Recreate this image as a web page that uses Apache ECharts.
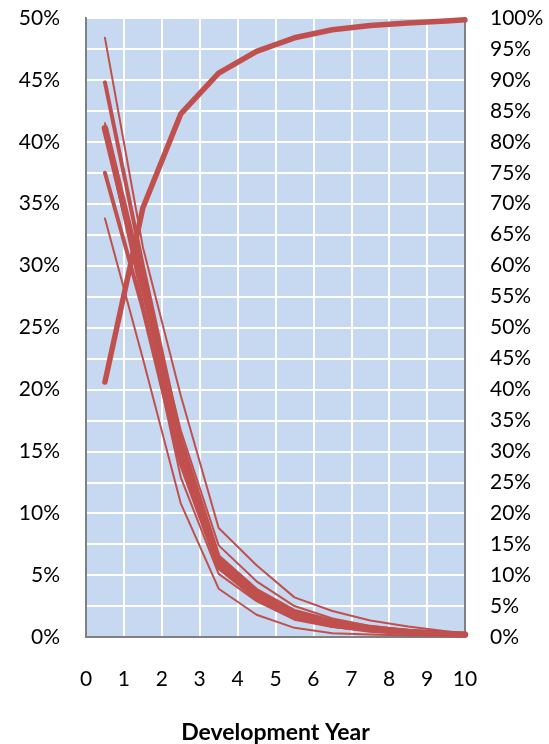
<!DOCTYPE html>
<html>
<head>
<meta charset="utf-8">
<script src="https://cdn.jsdelivr.net/npm/echarts@6/dist/echarts.min.js"></script>
<style>
  html, body { margin: 0; padding: 0; background: #ffffff; }
  #chart { width: 549px; height: 744px; }
</style>
</head>
<body>
<div id="chart"></div>
<script>
// Development years at which the payment percentages are recorded
const years = [0.5, 1.5, 2.5, 3.5, 4.5, 5.5, 6.5, 7.5, 8.5, 9.5, 10];

// Incremental share paid in each development year (left axis, %)
const patternA = [48.4, 31.5, 19.5, 8.8, 5.8, 3.2, 2.1, 1.33, 0.85, 0.47, 0.25];
const patternB = [44.8, 30.0, 16.0, 6.5, 3.8, 2.1, 1.3, 0.8, 0.5, 0.3, 0.2];
const patternC = [41.1, 28.5, 15.0, 6.0, 3.4, 1.8, 1.0, 0.6, 0.4, 0.25, 0.2];
const patternD = [41.5, 29.0, 16.7, 7.4, 4.5, 2.5, 1.5, 0.9, 0.55, 0.3, 0.2];
const patternE = [40.8, 27.0, 12.9, 5.1, 2.9, 1.4, 0.8, 0.5, 0.3, 0.2, 0.15];
const patternF = [37.5, 26.5, 14.0, 5.6, 3.1, 1.6, 0.9, 0.55, 0.35, 0.2, 0.15];
const patternG = [33.8, 22.5, 10.8, 3.9, 1.8, 0.74, 0.3, 0.2, 0.12, 0.1, 0.08];

// Cumulative share paid (right axis, %)
const cumulative = [41.2, 69.3, 84.5, 91.1, 94.6, 96.8, 98.1, 98.8, 99.2, 99.5, 99.7];

// Axis ticks
const xTicks = [0, 1, 2, 3, 4, 5, 6, 7, 8, 9, 10];
const leftMax = 50;
const rightMax = 100;

const lineColor = '#C0504D';
const font = 'Lato, "Open Sans", sans-serif';

function pairs(values) {
  return years.map((x, i) => [x, values[i]]);
}

function incrementalSeries(values, width) {
  return {
    type: 'line',
    data: pairs(values),
    yAxisIndex: 0,
    symbol: 'none',
    silent: true,
    lineStyle: { color: lineColor, width: width, cap: 'round', join: 'round' }
  };
}

const chart = echarts.init(document.getElementById('chart'), null, { renderer: 'canvas' });

chart.setOption({
  animation: false,
  backgroundColor: '#ffffff',
  grid: {
    left: 86, right: 84, top: 18, bottom: 107,
    outerBoundsMode: 'none',
    containLabel: false,
    show: true,
    backgroundColor: '#C6D9F0',
    borderColor: '#808080',
    borderWidth: 2
  },
  xAxis: {
    type: 'value',
    min: xTicks[0],
    max: xTicks[xTicks.length - 1],
    interval: 1,
    name: 'Development Year',
    nameLocation: 'middle',
    nameGap: 84,
    nameTextStyle: { fontFamily: font, fontSize: 23, fontWeight: 'bold', color: '#000000' },
    axisLine: { show: true, lineStyle: { color: '#808080', width: 2 } },
    axisTick: { show: false },
    axisLabel: { margin: 32, fontFamily: font, fontSize: 21, color: '#000000' },
    splitLine: { show: true, lineStyle: { color: '#ffffff', width: 2 } }
  },
  yAxis: [
    {
      type: 'value',
      min: 0,
      max: leftMax,
      interval: 2.5,
      position: 'left',
      axisLine: { show: true, lineStyle: { color: '#808080', width: 2 } },
      axisTick: { show: false },
      axisLabel: {
        margin: 26,
        fontFamily: font, fontSize: 21, color: '#000000',
        formatter: v => (Math.abs(v % 5) < 1e-9 ? v + '%' : '')
      },
      splitLine: { show: true, lineStyle: { color: '#ffffff', width: 2 } }
    },
    {
      type: 'value',
      min: 0,
      max: rightMax,
      interval: 5,
      position: 'right',
      axisLine: { show: true, lineStyle: { color: '#808080', width: 2 } },
      axisTick: { show: false },
      axisLabel: { margin: 25, fontFamily: font, fontSize: 21, color: '#000000', formatter: '{value}%' },
      splitLine: { show: false }
    }
  ],
  series: [
    {
      type: 'line',
      data: pairs(cumulative),
      yAxisIndex: 1,
      symbol: 'none',
      silent: true,
      lineStyle: { color: lineColor, width: 5.5, cap: 'round', join: 'round' }
    },
    incrementalSeries(patternG, 2),
    incrementalSeries(patternA, 2),
    incrementalSeries(patternE, 2),
    incrementalSeries(patternD, 2),
    incrementalSeries(patternF, 4),
    incrementalSeries(patternB, 4),
    incrementalSeries(patternC, 6.5)
  ]
});
</script>
</body>
</html>
